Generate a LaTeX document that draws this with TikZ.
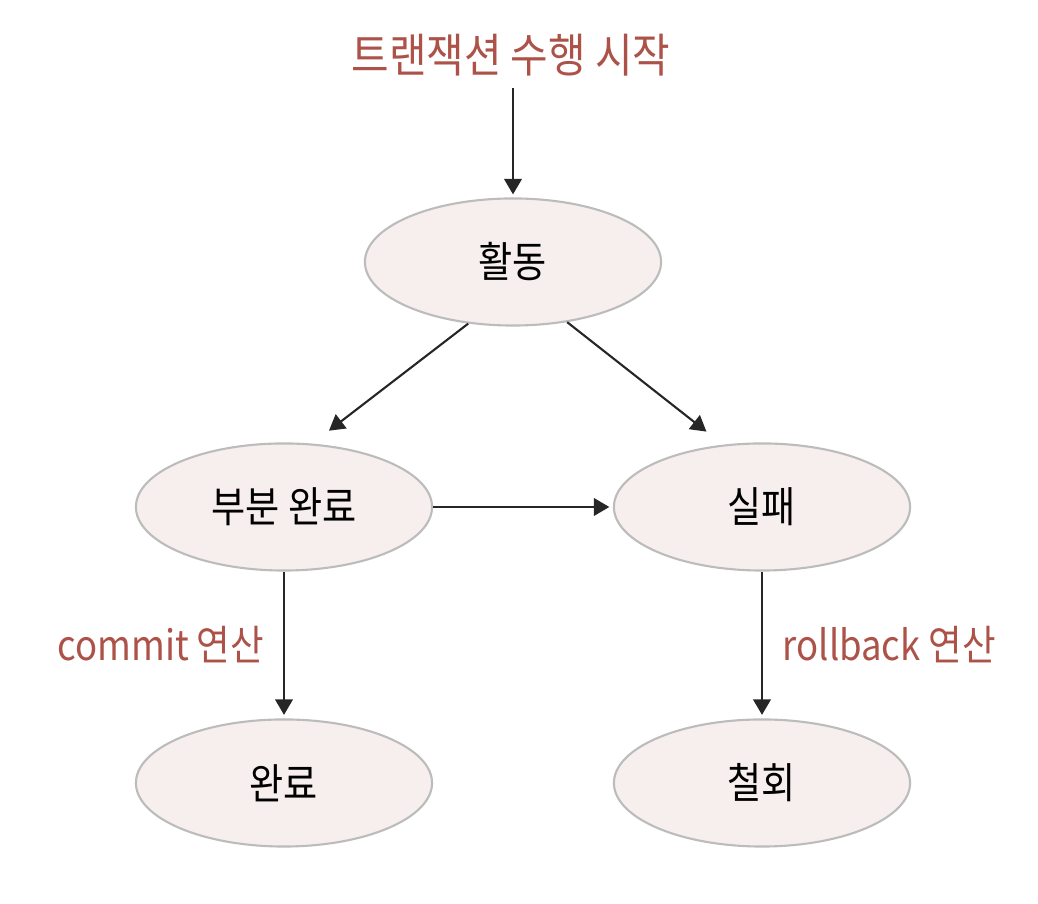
\documentclass[tikz,border=0pt]{standalone}
\usepackage{fontspec}
\setmainfont{Noto Sans CJK KR}[FakeStretch=0.88]
\usetikzlibrary{shapes.geometric,arrows.meta}
\definecolor{labelred}{RGB}{172,82,72}
\definecolor{statefill}{RGB}{247,239,237}
\definecolor{stateline}{RGB}{188,188,188}
\begin{document}
\begin{tikzpicture}[x=0.01cm,y=-0.01cm,
    state/.style={ellipse,draw=stateline,fill=statefill,line width=0.6pt,
      minimum width=2.96cm,minimum height=1.27cm,font=\fontsize{12}{14}\selectfont},
    lab/.style={text=labelred,font=\fontsize{11.8}{14}\selectfont},
    arr/.style={-{Triangle[length=4.4pt,width=5pt]},line width=0.6pt,black!85}]
  \useasboundingbox (0,0) rectangle (1038,904);
  \draw
    (511,55) node[lab,font=\fontsize{13.2}{16}\selectfont] (start){트랜잭션 수행 시작}
    (513,262) node[state] (act){활동}
    (284,507) node[state] (part){부분 완료}
    (762,507) node[state] (fail){실패}
    (284,783) node[state] (done){완료}
    (762,783) node[state] (abort){철회};
  \coordinate (s) at (513,88);
  \begin{scope}[arr]
    \draw (s) to ([yshift=0.03cm]act.north);
    \draw[shorten >=6pt] (act.234) to (part.66);
    \draw[shorten >=6pt] (act.312) to (fail.122);
    \draw[shorten >=1pt] (part.east) to (fail.west);
    \draw[shorten >=1pt] (part.south) to node[lab,left=0.07cm] (commit){commit 연산} (done.north);
    \draw[shorten >=1pt] (fail.south) to node[lab,right=0.08cm] (rollback){rollback 연산} (abort.north);
  \end{scope}
\end{tikzpicture}
\end{document}
